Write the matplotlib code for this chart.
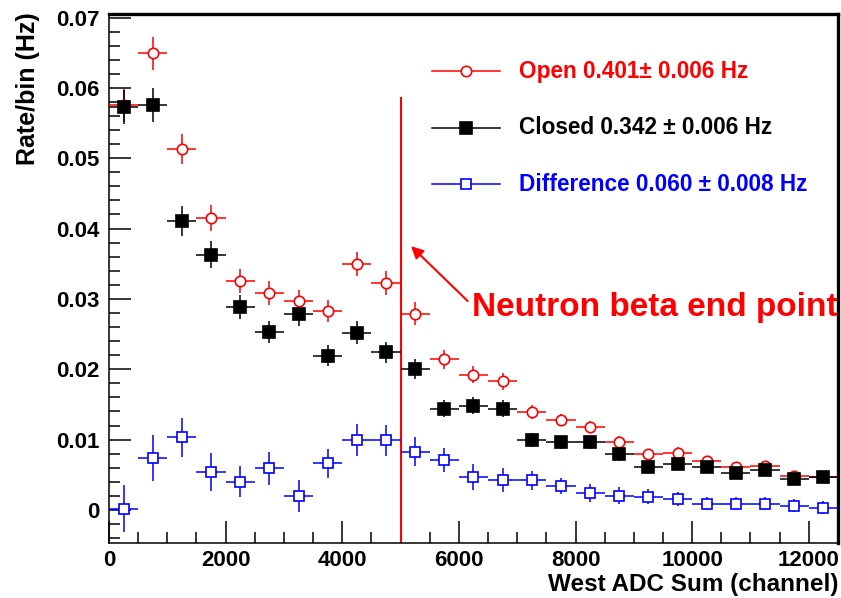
import matplotlib
matplotlib.use("Agg")
import matplotlib.pyplot as plt
from matplotlib.ticker import MultipleLocator
import numpy as np

plt.rcParams['font.family'] = ['Liberation Sans', 'DejaVu Sans']
plt.rcParams['font.weight'] = 'bold'

# ADC sum bins (500 channels wide)
bin_width = 500
adc_center = np.arange(250, 12500, bin_width)

# Rates per bin (Hz), shutter open / closed and their difference
open_rate = [0.0575, 0.0649, 0.0513, 0.0415, 0.0325, 0.0309, 0.0297, 0.0283, 0.0349, 0.0322,
             0.0279, 0.0214, 0.0192, 0.0183, 0.0139, 0.0128, 0.0118, 0.0097, 0.0079, 0.0081,
             0.0070, 0.0061, 0.0062, 0.0048, 0.0047]
open_err = [0.0024, 0.0023, 0.0021, 0.0019, 0.0017, 0.0017, 0.0016, 0.0016, 0.0017, 0.0017,
            0.0016, 0.0013, 0.0012, 0.0012, 0.0010, 0.0009, 0.0009, 0.0008, 0.0008, 0.0008,
            0.0007, 0.0007, 0.0007, 0.0006, 0.0006]
closed_rate = [0.0573, 0.0576, 0.0411, 0.0363, 0.0288, 0.0253, 0.0279, 0.0219, 0.0252, 0.0224,
               0.0200, 0.0144, 0.0148, 0.0144, 0.0099, 0.0096, 0.0096, 0.0079, 0.0061, 0.0065,
               0.0061, 0.0053, 0.0057, 0.0044, 0.0047]
closed_err = [0.0024, 0.0024, 0.0021, 0.0019, 0.0017, 0.0016, 0.0017, 0.0015, 0.0016, 0.0015,
              0.0014, 0.0012, 0.0012, 0.0012, 0.0010, 0.0009, 0.0009, 0.0009, 0.0008, 0.0008,
              0.0008, 0.0007, 0.0007, 0.0007, 0.0007]
diff_rate = [0.0002, 0.0074, 0.0103, 0.0054, 0.0040, 0.0059, 0.0020, 0.0066, 0.0099, 0.0099,
             0.0083, 0.0071, 0.0047, 0.0042, 0.0042, 0.0034, 0.0024, 0.0020, 0.0019, 0.0016,
             0.0009, 0.0009, 0.0009, 0.0006, 0.0003]
diff_err = [0.0033, 0.0033, 0.0028, 0.0027, 0.0022, 0.0023, 0.0023, 0.0021, 0.0023, 0.0022,
            0.0020, 0.0017, 0.0018, 0.0017, 0.0014, 0.0012, 0.0013, 0.0012, 0.0011, 0.0010,
            0.0009, 0.0009, 0.0009, 0.0009, 0.0009]

legend_labels = ['Open 0.401\u00b1 0.006 Hz', 'Closed 0.342 \u00b1 0.006 Hz',
                 'Difference 0.060 \u00b1 0.008 Hz']
end_point = 5000

fig = plt.figure(figsize=(8.41, 5.98), dpi=100)
ax = fig.add_axes([0.1296, 0.092, 0.8668, 0.8846])

styles = [
    (open_rate, open_err, '#ff0000', 'o', 'white', 7.5),
    (closed_rate, closed_err, 'black', 's', 'black', 8),
    (diff_rate, diff_err, '#0000ff', 's', 'white', 7.5),
]
for rate, err, col, mk, mfc, ms in styles:
    ax.errorbar(adc_center, rate, xerr=bin_width / 2, yerr=err, fmt=mk, color=col,
                mfc=mfc, mec=col, ms=ms, mew=1.2, elinewidth=1.1, capsize=0, zorder=3)

# end point marker
ax.plot([end_point, end_point], [-0.0047, 0.0585], color='#ff0000', lw=1.5, zorder=2)
ax.annotate('', xy=(5180, 0.0375), xytext=(6150, 0.0297),
            arrowprops=dict(arrowstyle='-|>', color='#ff0000', lw=1.5,
                            mutation_scale=18, shrinkA=0, shrinkB=0))
ax.text(6220, 0.0288, 'Neutron beta end point', color='#ff0000', fontsize=24,
        ha='left', va='center', clip_on=True)

# legend block
rows_y = [0.892, 0.7845, 0.6786]
for (rate, err, col, mk, mfc, ms), ry, lab in zip(styles, rows_y, legend_labels):
    ax.plot([0.443, 0.5364], [ry, ry], transform=ax.transAxes, color=col, lw=1.1)
    ax.plot([0.4897], [ry], transform=ax.transAxes, marker=mk, color=col, mfc=mfc,
            mec=col, ms=ms, mew=1.2)
    ax.text(0.5624, ry, lab, transform=ax.transAxes, color=col, fontsize=16.3,
            ha='left', va='center')

ax.set_xlim(0, 12500)
ax.set_ylim(-0.0047, 0.0705)
ax.xaxis.set_major_locator(MultipleLocator(2000))
ax.xaxis.set_minor_locator(MultipleLocator(500))
ax.yaxis.set_major_locator(MultipleLocator(0.01))
ax.yaxis.set_minor_locator(MultipleLocator(0.002))
ax.set_yticks(np.arange(0, 0.071, 0.01))
ax.set_yticklabels(['0', '0.01', '0.02', '0.03', '0.04', '0.05', '0.06', '0.07'])
ax.tick_params(which='major', direction='in', length=16, width=1.1, labelsize=16, pad=7)
ax.tick_params(axis='x', which='major', pad=5)
ax.tick_params(which='minor', direction='in', length=8, width=1.1)

for side in ['left', 'bottom']:
    ax.spines[side].set_linewidth(1.1)
for side in ['top', 'right']:
    ax.spines[side].set_linewidth(2.4)

fig.text(28 / 841, 1 - 12 / 598, 'Rate/bin (Hz)', rotation=90, ha='center', va='top',
         fontsize=18)
fig.text(838 / 841, 1 - 585 / 598, 'West ADC Sum (channel)', ha='right', va='center',
         fontsize=17.5)

fig.savefig('out.png', dpi=100)
